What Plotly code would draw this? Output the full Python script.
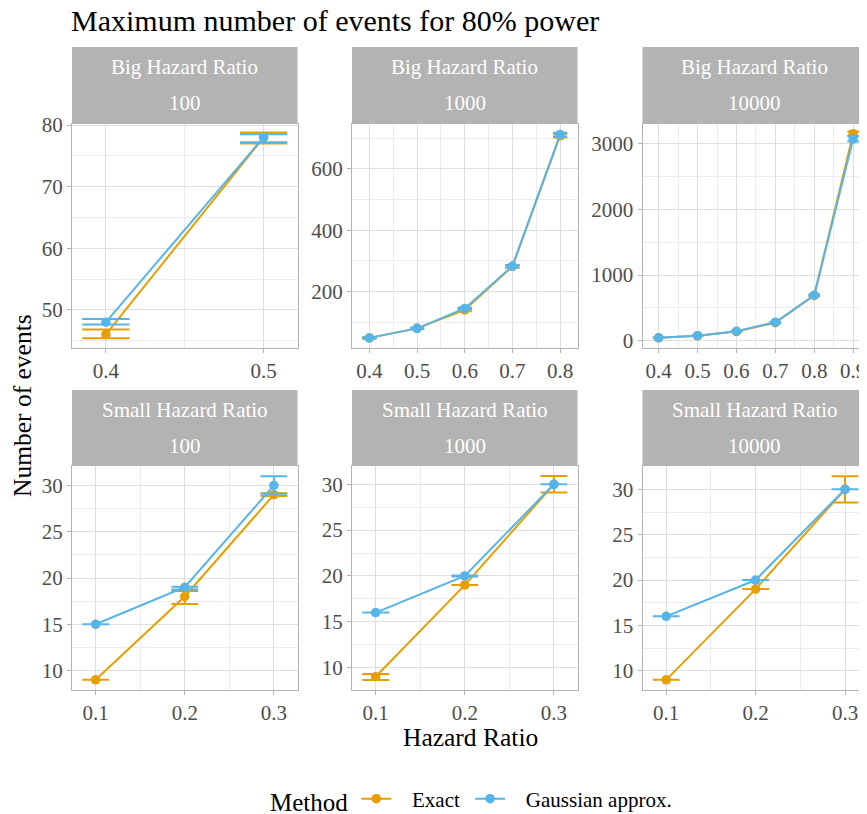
import plotly.graph_objects as go

# ---------------- data ----------------
methods = ["Exact", "Gaussian approx."]
colors = {"Exact": "#E69F00", "Gaussian approx.": "#56B4E9"}

strip_group = ["Big Hazard Ratio", "Big Hazard Ratio", "Big Hazard Ratio",
               "Small Hazard Ratio", "Small Hazard Ratio", "Small Hazard Ratio"]
strip_max = ["100", "1000", "10000", "100", "1000", "10000"]

# Big hazard ratio, max 100
hr_big_100 = [0.4, 0.5]
exact_big_100 = [46, 78]
exact_big_100_lo = [45.4, 77.0]
exact_big_100_hi = [46.8, 78.8]
gauss_big_100 = [48, 78]
gauss_big_100_lo = [47.6, 77.2]
gauss_big_100_hi = [48.5, 78.5]

# Big hazard ratio, max 1000
hr_big_1000 = [0.4, 0.5, 0.6, 0.7, 0.8]
exact_big_1000 = [49, 80, 140, 282, 708]
exact_big_1000_lo = [47, 78, 136, 278, 702]
exact_big_1000_hi = [51, 82, 144, 286, 714]
gauss_big_1000 = [49, 80, 145, 283, 712]
gauss_big_1000_lo = [47, 78, 142, 279, 706]
gauss_big_1000_hi = [51, 82, 148, 287, 718]

# Big hazard ratio, max 10000
hr_big_10000 = [0.4, 0.5, 0.6, 0.7, 0.8, 0.9]
exact_big_10000 = [45, 76, 140, 275, 690, 3155]
exact_big_10000_lo = [42, 72, 135, 268, 680, 3120]
exact_big_10000_hi = [48, 80, 145, 282, 700, 3190]
gauss_big_10000 = [46, 78, 145, 283, 695, 3075]
gauss_big_10000_lo = [43, 74, 140, 276, 685, 3035]
gauss_big_10000_hi = [49, 82, 150, 290, 705, 3115]

# Small hazard ratio, max 100
hr_small = [0.1, 0.2, 0.3]
exact_small_100 = [9, 18, 29]
exact_small_100_lo = [9, 17.2, 28.85]
exact_small_100_hi = [9, 18.6, 29.15]
gauss_small_100 = [15, 19, 30]
gauss_small_100_lo = [15, 18.75, 29.1]
gauss_small_100_hi = [15, 19.05, 31]

# Small hazard ratio, max 1000
exact_small_1000 = [9, 19, 30]
exact_small_1000_lo = [8.65, 19, 29.1]
exact_small_1000_hi = [9.3, 19, 30.9]
gauss_small_1000 = [16, 20, 30]
gauss_small_1000_lo = [16, 19.95, 30]
gauss_small_1000_hi = [16, 20.05, 30]

# Small hazard ratio, max 10000
exact_small_10000 = [9, 19, 30]
exact_small_10000_lo = [9, 19, 28.55]
exact_small_10000_hi = [9, 19, 31.45]
gauss_small_10000 = [16, 20, 30]
gauss_small_10000_lo = [16, 20, 30]
gauss_small_10000_hi = [16, 20, 30]

panels = [
    (hr_big_100, (exact_big_100, exact_big_100_lo, exact_big_100_hi),
     (gauss_big_100, gauss_big_100_lo, gauss_big_100_hi)),
    (hr_big_1000, (exact_big_1000, exact_big_1000_lo, exact_big_1000_hi),
     (gauss_big_1000, gauss_big_1000_lo, gauss_big_1000_hi)),
    (hr_big_10000, (exact_big_10000, exact_big_10000_lo, exact_big_10000_hi),
     (gauss_big_10000, gauss_big_10000_lo, gauss_big_10000_hi)),
    (hr_small, (exact_small_100, exact_small_100_lo, exact_small_100_hi),
     (gauss_small_100, gauss_small_100_lo, gauss_small_100_hi)),
    (hr_small, (exact_small_1000, exact_small_1000_lo, exact_small_1000_hi),
     (gauss_small_1000, gauss_small_1000_lo, gauss_small_1000_hi)),
    (hr_small, (exact_small_10000, exact_small_10000_lo, exact_small_10000_hi),
     (gauss_small_10000, gauss_small_10000_lo, gauss_small_10000_hi)),
]

# ---------------- layout geometry (screen pixels) ----------------
W, H = 859, 806          # figure size; page body adds an 8px margin
OFF = 8
FONT = "Liberation Serif"
NB = "\u00a0"
cols_px = [(72, 297.5), (352, 577.5), (642.5, 867)]
rows_px = [(123.5, 348), (466, 690)]          # plot area top/bottom
strips_px = [(47, 123.5), (390, 466)]          # strip top/bottom

x_ranges = [[0.3785, 0.5215], [0.3635, 0.8365], [0.3585, 0.9356],
            [0.0735, 0.3265], [0.0735, 0.3265], [0.0735, 0.3246]]
y_ranges = [[43.8, 80.25], [16, 748], [-110, 3310],
            [7.9, 32.1], [7.55, 32.0], [7.88, 32.57]]
y_dticks = [10, 200, 1000, 5, 5, 5]

def px_x(p):
    return (p - OFF) / W

def px_y(p):
    return 1 - (p - OFF) / H

fig = go.Figure()
layout = dict(
    width=W, height=H,
    margin=dict(l=0, r=0, t=0, b=0, pad=0, autoexpand=False),
    paper_bgcolor="white", plot_bgcolor="white",
    font=dict(family=FONT, color="#4d4d4d"),
    showlegend=True,
)

shapes = []
annotations = []

for i, (xs, ex, ga) in enumerate(panels):
    r, c = divmod(i, 3)
    ax = "" if i == 0 else str(i + 1)
    x0, x1 = cols_px[c]
    yt, yb = rows_px[r]
    ppu = (x1 - x0) / (x_ranges[i][1] - x_ranges[i][0])
    cap = 0.015 * ppu
    for name, (vals, lo, hi) in zip(methods, [ex, ga]):
        fig.add_trace(go.Scatter(
            x=xs, y=vals, mode="lines+markers",
            name=NB * 3 + name + NB,
            legendgroup=name, showlegend=(i == 0),
            line=dict(color=colors[name], width=2),
            marker=dict(color=colors[name], size=9.5),
            error_y=dict(type="data", symmetric=False,
                         array=[h - v for h, v in zip(hi, vals)],
                         arrayminus=[v - l for v, l in zip(vals, lo)],
                         color=colors[name], thickness=2, width=cap),
            xaxis="x" + ax, yaxis="y" + ax,
        ))
    common = dict(
        showline=True, linecolor="#b3b3b3", linewidth=1, mirror=True,
        ticks="outside", ticklen=4, tickcolor="#b3b3b3", tickwidth=1,
        showgrid=True, gridcolor="#dedede", gridwidth=1, zeroline=False,
        tickfont=dict(family=FONT, size=21, color="#4d4d4d"),
    )
    layout["xaxis" + ax] = dict(
        common, domain=[px_x(x0), min(1.0, px_x(x1))], anchor="y" + ax,
        range=x_ranges[i], dtick=0.1, tick0=0, tickformat=".1f",
        minor=dict(showgrid=True, gridcolor="#ececec", gridwidth=0.6, dtick=0.05, tick0=0),
    )
    layout["yaxis" + ax] = dict(
        common, domain=[px_y(yb), px_y(yt)], anchor="x" + ax,
        range=y_ranges[i], dtick=y_dticks[i], tick0=0,
        minor=dict(showgrid=True, gridcolor="#ececec", gridwidth=0.6,
                   dtick=y_dticks[i] / 2, tick0=0),
    )
    st, sb = strips_px[r]
    shapes.append(dict(type="rect", xref="paper", yref="paper",
                       x0=px_x(x0), x1=min(1.0, px_x(x1)), y0=px_y(sb), y1=px_y(st),
                       fillcolor="#b3b3b3", line=dict(width=0), layer="below"))
    annotations.append(dict(text=strip_group[i], xref="paper", yref="paper",
                            x=px_x((x0 + x1) / 2), y=px_y(st + 19.7),
                            xanchor="center", yanchor="middle", showarrow=False,
                            font=dict(family=FONT, size=21, color="white")))
    annotations.append(dict(text=strip_max[i], xref="paper", yref="paper",
                            x=px_x((x0 + x1) / 2), y=px_y(st + 56.3),
                            xanchor="center", yanchor="middle", showarrow=False,
                            font=dict(family=FONT, size=21, color="white")))

annotations.append(dict(text="Maximum number of events for 80% power", xref="paper", yref="paper",
                        x=px_x(69), y=px_y(20), xanchor="left", yanchor="middle",
                        showarrow=False, font=dict(family=FONT, size=30, color="black")))
annotations.append(dict(text="Hazard Ratio", xref="paper", yref="paper",
                        x=px_x(470), y=px_y(737), xanchor="center", yanchor="middle",
                        showarrow=False, font=dict(family=FONT, size=25.5, color="black")))
annotations.append(dict(text="Number of events", xref="paper", yref="paper",
                        x=px_x(22), y=px_y(406), xanchor="center", yanchor="middle",
                        textangle=-90, showarrow=False,
                        font=dict(family=FONT, size=25.5, color="black")))

layout["shapes"] = shapes
layout["annotations"] = annotations
layout["legend"] = dict(
    orientation="h", x=px_x(268), y=px_y(800), xanchor="left", yanchor="middle",
    title=dict(text="Method", side="left", font=dict(family=FONT, size=25, color="black")),
    font=dict(family=FONT, size=21, color="black"),
    itemwidth=30, bgcolor="rgba(0,0,0,0)",
)
fig.update_layout(**layout)
fig.write_html("out.html")
